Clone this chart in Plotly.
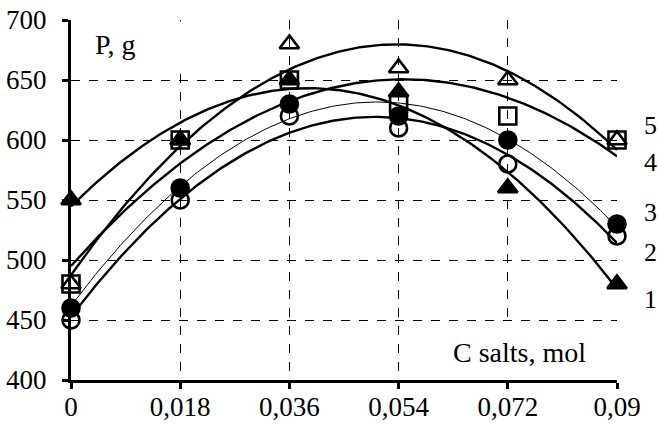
import numpy as np
import plotly.graph_objects as go

# salt concentration, mol
c_salts = [0, 0.018, 0.036, 0.054, 0.072, 0.09]
x_tick_text = ['0', '0,018', '0,036', '0,054', '0,072', '0,09']
y_ticks = [400, 450, 500, 550, 600, 650, 700]

# P, g for curves 1..5
p1 = [550, 600, 650, 640, 560, 480]
p2 = [450, 550, 620, 610, 580, 520]
p3 = [460, 560, 630, 620, 600, 530]
p4 = [480, 600, 650, 630, 620, 600]
p5 = [480, 600, 680, 660, 650, 600]
curve_names = ['1', '2', '3', '4', '5']

FONT = 'Liberation Serif, Times New Roman, serif'

series = [
    (p1, 'triangle-up', 2.4),
    (p2, 'circle-open', 2.4),
    (p3, 'circle', 1.0),
    (p4, 'square-open', 2.4),
    (p5, 'triangle-up-open', 2.4),
]

fig = go.Figure()
x_fine = np.linspace(c_salts[0], c_salts[-1], 200)

# 2nd order polynomial trend lines, as in the original
for vals, _, lw in series:
    coef = np.polyfit(c_salts, vals, 2)
    fig.add_trace(go.Scatter(x=x_fine, y=np.polyval(coef, x_fine), mode='lines',
                             line=dict(color='black', width=lw),
                             showlegend=False, hoverinfo='skip'))

for vals, sym, _ in series:
    fig.add_trace(go.Scatter(x=c_salts, y=vals, mode='markers',
                             marker=dict(symbol=sym, size=17, color='black',
                                         line=dict(color='black', width=2.6)),
                             cliponaxis=False, showlegend=False))

axis_common = dict(showline=True, linecolor='black', linewidth=3, automargin=False,
                   ticks='outside', ticklen=6, tickwidth=3, tickcolor='black',
                   showgrid=True, gridcolor='black', gridwidth=1, griddash='dash',
                   zeroline=False, ticklabeloverflow='allow',
                   tickfont=dict(family=FONT, size=27, color='black'))

fig.update_xaxes(range=[0, 0.09], tickvals=c_salts, ticktext=x_tick_text,
                 ticklabelstandoff=-5, **axis_common)
fig.update_yaxes(range=[400, 700], tickvals=y_ticks, ticklabelstandoff=10, **axis_common)

annotations = [
    dict(text='P, g', x=0.0033, y=680, xref='x', yref='y', showarrow=False,
         font=dict(family=FONT, size=28, color='black'), bgcolor='white',
         xanchor='left', yanchor='middle', width=100, height=38,
         align='left', valign='middle', borderpad=3),
    dict(text='C salts, mol', x=0.0857, y=423, xref='x', yref='y', showarrow=False,
         font=dict(family=FONT, size=28, color='black'), bgcolor='white',
         xanchor='right', yanchor='middle', height=44, borderpad=4),
]
label_y = [467, 506, 540, 581, 612]
for name, ly in zip(curve_names, label_y):
    annotations.append(dict(text=name, x=1.061, y=ly, xref='paper', yref='y',
                            showarrow=False, xanchor='center',
                            font=dict(family=FONT, size=26, color='black')))

fig.update_layout(width=658, height=425, margin=dict(l=71, r=41, t=20, b=45),
                  font=dict(family=FONT, color='black'),
                  plot_bgcolor='white', paper_bgcolor='white',
                  annotations=annotations)

# drop the default page margin so the figure fills the window exactly
fig.write_html("out.html", config={'displayModeBar': False},
               post_script="document.body.style.margin='0';")
